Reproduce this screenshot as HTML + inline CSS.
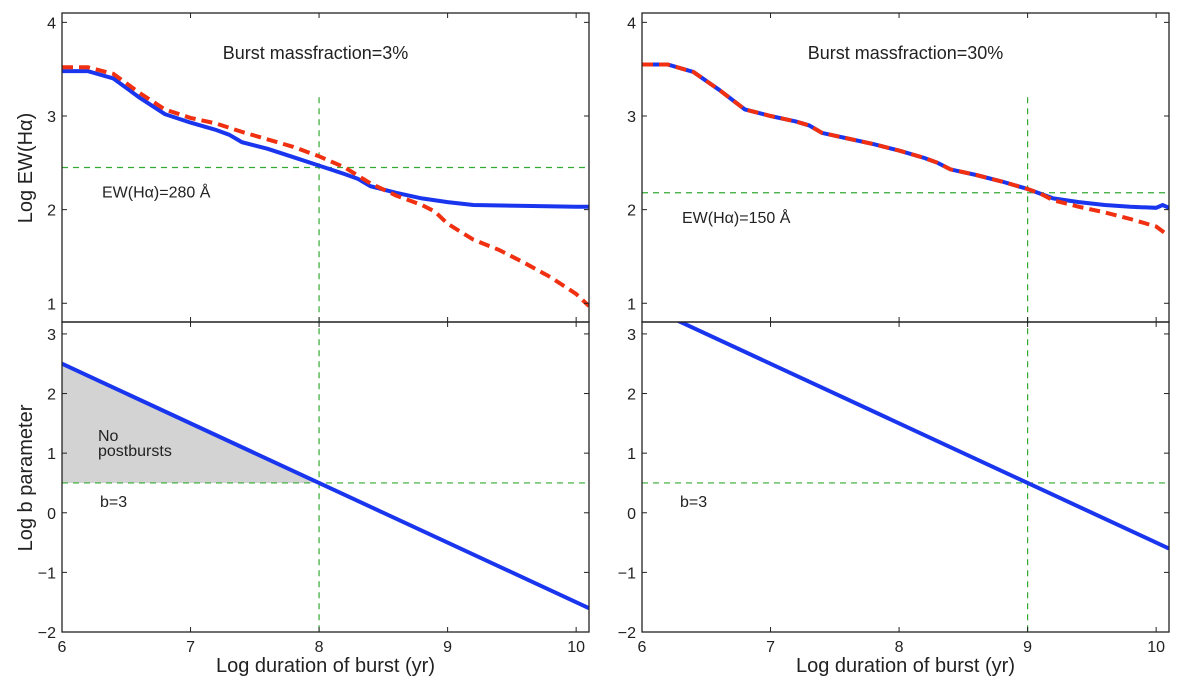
<!DOCTYPE html>
<html><head><meta charset="utf-8"><style>
body{margin:0;background:#fff}
svg text{font-family:"Liberation Sans","DejaVu Sans",sans-serif;fill:#222}
</style></head><body>
<svg id="s" width="1200" height="687" xmlns="http://www.w3.org/2000/svg"></svg>
<script>
const xTicks=[6,7,8,9,10];
const topTicks=[1,2,3,4];
const botTicks=[-2,-1,0,1,2,3];
const leftBlueX=[6,6.2,6.4,6.6,6.8,7,7.2,7.3,7.4,7.6,7.8,8,8.2,8.3,8.4,8.6,8.8,9,9.2,9.6,10,10.1];
const leftBlueY=[3.48,3.48,3.4,3.2,3.02,2.93,2.85,2.8,2.72,2.65,2.56,2.47,2.38,2.33,2.25,2.18,2.12,2.08,2.05,2.04,2.03,2.03];
const leftRedX=[6,6.2,6.4,6.6,6.8,7,7.2,7.4,7.6,7.8,8,8.2,8.4,8.6,8.8,8.9,9,9.2,9.4,9.6,9.8,10,10.1];
const leftRedY=[3.52,3.52,3.45,3.25,3.07,2.98,2.92,2.83,2.75,2.67,2.57,2.45,2.28,2.15,2.05,1.98,1.85,1.68,1.57,1.43,1.28,1.1,0.97];
const rightBlueX=[6,6.2,6.4,6.6,6.8,7,7.2,7.3,7.4,7.6,7.8,8,8.2,8.3,8.4,8.6,8.8,9,9.1,9.2,9.4,9.6,9.8,10,10.05,10.1];
const rightBlueY=[3.55,3.55,3.47,3.28,3.07,3.0,2.94,2.9,2.82,2.76,2.7,2.63,2.55,2.5,2.43,2.37,2.3,2.22,2.17,2.12,2.08,2.05,2.03,2.02,2.05,2.02];
const rightRedX=[6,6.2,6.4,6.6,6.8,7,7.2,7.3,7.4,7.6,7.8,8,8.2,8.3,8.4,8.6,8.8,9,9.1,9.2,9.4,9.6,9.8,10,10.1];
const rightRedY=[3.55,3.55,3.47,3.28,3.07,3.0,2.94,2.9,2.82,2.76,2.7,2.63,2.55,2.5,2.43,2.37,2.3,2.22,2.17,2.1,2.03,1.97,1.9,1.82,1.72];
const leftBX=[6,10.1], leftBY=[2.5,-1.6];
const rightBX=[6,10.1], rightBY=[3.5,-0.6];
const ewLevels=[2.45,2.18], bLevel=0.5, vLines=[8,9];
const titles=["Burst massfraction=3%","Burst massfraction=30%"];
const ewLabels=["EW(Hα)=280 Å","EW(Hα)=150 Å"];

const NS="http://www.w3.org/2000/svg", svg=document.getElementById('s');
function el(t,a,txt,parent){const e=document.createElementNS(NS,t);for(const k in a)e.setAttribute(k,a[k]);if(txt!==undefined)e.textContent=txt;(parent||svg).appendChild(e);return e;}
const panels=[{x0:62,x1:589},{x0:642,x1:1169}];
const T0=13,T1=322,B1=632;
function X(p,v){return p.x0+(v-6)/(10.1-6)*(p.x1-p.x0);}
function YT(v){return T0+(4.1-v)/(4.1-0.8)*(T1-T0);}
function YB(v){return T1+(3.2-v)/(3.2+2)*(B1-T1);}
function pts(p,xs,ys,yf){return xs.map((x,i)=>X(p,x).toFixed(1)+','+yf(ys[i]).toFixed(1)).join(' ');}

panels.forEach((p,k)=>{
  const ct='ct'+k, cb='cb'+k;
  const d1=el('clipPath',{id:ct});el('rect',{x:p.x0,y:T0,width:p.x1-p.x0,height:T1-T0},undefined,d1);
  const d2=el('clipPath',{id:cb});el('rect',{x:p.x0,y:T1,width:p.x1-p.x0,height:B1-T1},undefined,d2);
  const bx=k?rightBX:leftBX, by=k?rightBY:leftBY;
  if(k===0){
    const xi=bx[0]+(by[0]-bLevel)*(bx[1]-bx[0])/(by[0]-by[1]);
    const f=el('polygon',{points:`${X(p,6)},${YB(by[0])} ${X(p,xi)},${YB(bLevel)} ${X(p,6)},${YB(bLevel)}`,fill:'#d3d3d3'});
    
  }
  const h1=el('line',{x1:p.x0,x2:p.x1,y1:YT(ewLevels[k]),y2:YT(ewLevels[k]),stroke:'#3a3',"stroke-width":1.2,"stroke-dasharray":"6,5"});
  
  const h2=el('line',{x1:p.x0,x2:p.x1,y1:YB(bLevel),y2:YB(bLevel),stroke:'#3a3',"stroke-width":1.2,"stroke-dasharray":"6,5"});
  
  const v=el('line',{x1:X(p,vLines[k]),x2:X(p,vLines[k]),y1:YT(3.2),y2:B1,stroke:'#3a3',"stroke-width":1.2,"stroke-dasharray":"6,5"});
  
  const rx=k?rightRedX:leftRedX, ry=k?rightRedY:leftRedY, ux=k?rightBlueX:leftBlueX, uy=k?rightBlueY:leftBlueY;
  const b=el('polyline',{points:pts(p,ux,uy,YT),fill:'none',stroke:'#1a35ee',"stroke-width":4,"clip-path":`url(#${ct})`});
  
  const r=el('polyline',{points:pts(p,rx,ry,YT),fill:'none',stroke:'#f03010',"stroke-width":4,"stroke-dasharray":"11,6","clip-path":`url(#${ct})`});
  
  const bl=el('line',{x1:X(p,bx[0]),y1:YB(by[0]),x2:X(p,bx[1]),y2:YB(by[1]),stroke:'#1a35ee',"stroke-width":4,"clip-path":`url(#${cb})`});
  
  const f1=el('rect',{x:p.x0,y:T0,width:p.x1-p.x0,height:T1-T0,fill:'none',stroke:'#222',"stroke-width":1.3});
  
  const f2=el('rect',{x:p.x0,y:T1,width:p.x1-p.x0,height:B1-T1,fill:'none',stroke:'#222',"stroke-width":1.3});
  
  xTicks.forEach(t=>{const x=X(p,t);
    [[T0,T0+5],[T1,T1-5],[T1,T1+5],[B1,B1-5]].forEach(q=>el('line',{x1:x,x2:x,y1:q[0],y2:q[1],stroke:'#222'}));
    const tl=el('text',{x:x,y:652,"font-size":16,"text-anchor":"middle"},t);
    
  });
  topTicks.forEach(t=>{const y=YT(t);
    el('line',{x1:p.x0,x2:p.x0+5,y1:y,y2:y,stroke:'#222'});el('line',{x1:p.x1,x2:p.x1-5,y1:y,y2:y,stroke:'#222'});
    const tl=el('text',{x:p.x0-6,y:y+6,"font-size":16,"text-anchor":"end"},t);
    
  });
  botTicks.forEach(t=>{const y=YB(t);
    el('line',{x1:p.x0,x2:p.x0+5,y1:y,y2:y,stroke:'#222'});el('line',{x1:p.x1,x2:p.x1-5,y1:y,y2:y,stroke:'#222'});
    const tl=el('text',{x:p.x0-6,y:y+6,"font-size":16,"text-anchor":"end"},t<0?'\u2212'+(-t):t);
    
  });
  const tt=el('text',{x:(p.x0+p.x1)/2+(k?0:-10),y:59,"font-size":18,"text-anchor":"middle"},titles[k]);
  
  const ew=el('text',{x:p.x0+40,y:YT(ewLevels[k])+30,"font-size":16},ewLabels[k]);
  
  const b3=el('text',{x:p.x0+38,y:YB(bLevel)+24,"font-size":16},'b=3');
  
  const xl=el('text',{x:(p.x0+p.x1)/2,y:672,"font-size":20,"text-anchor":"middle"},'Log duration of burst (yr)');
  
});
const n1=el('text',{x:98,y:441,"font-size":16},'No');

const n2=el('text',{x:98,y:456,"font-size":16},'postbursts');

const y1=el('text',{x:0,y:0,"font-size":20,"text-anchor":"middle",transform:'translate(32,168) rotate(-90)'},'Log EW(Hα)');

const y2=el('text',{x:0,y:0,"font-size":20,"text-anchor":"middle",transform:'translate(32,478) rotate(-90)'},'Log b parameter');

</script>
</body></html>
